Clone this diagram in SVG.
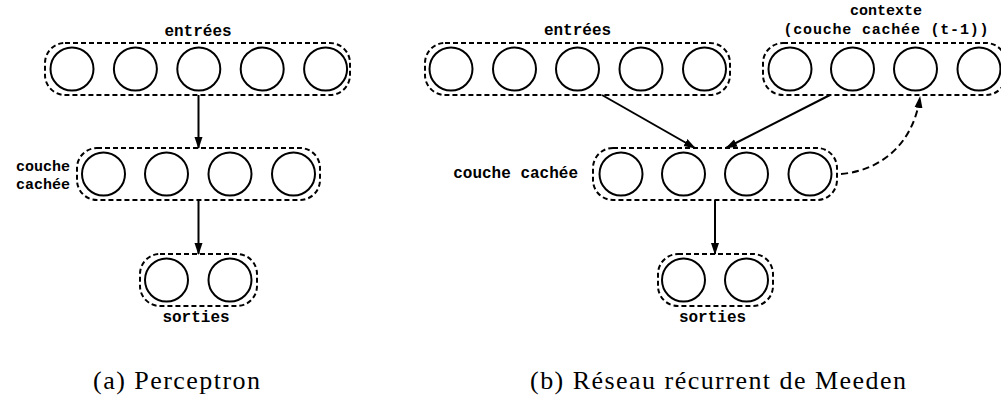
<svg xmlns="http://www.w3.org/2000/svg" width="1001" height="395" viewBox="0 0 1001 395">
<defs>
<style>
.grp{fill:none;stroke:#000;stroke-width:2;stroke-dasharray:5,3}
.n{fill:#fff;stroke:#000;stroke-width:2}
.lbl{font-family:"Liberation Mono","Courier New",monospace;font-weight:bold;font-size:16px;fill:#000}
.sm{font-size:15px}
.cap{font-family:"Liberation Serif","Times New Roman",serif;font-size:26px;fill:#000}
.ar{fill:none;stroke:#000;stroke-width:2}
.dash{fill:none;stroke:#000;stroke-width:2;stroke-dasharray:7,4}
</style>
<marker id="ah" markerWidth="12" markerHeight="10" refX="11" refY="5" orient="auto" markerUnits="userSpaceOnUse">
<path d="M0,1 L12,5 L0,9 Z" fill="#000"/>
</marker>
</defs>
<rect width="1001" height="395" fill="#fff"/>

<!-- (a) Perceptron -->
<g id="a-entrees">
<rect class="grp" x="45" y="43" width="305" height="52" rx="20" ry="20"/>
<circle class="n" cx="72" cy="69" r="21.5"/>
<circle class="n" cx="135.4" cy="69" r="21.5"/>
<circle class="n" cx="198.8" cy="69" r="21.5"/>
<circle class="n" cx="262.2" cy="69" r="21.5"/>
<circle class="n" cx="325.6" cy="69" r="21.5"/>
<text class="lbl" x="198" y="36" text-anchor="middle">entrées</text>
</g>
<g id="a-cachee">
<rect class="grp" x="77" y="148" width="243" height="52" rx="20" ry="20"/>
<circle class="n" cx="103.5" cy="174" r="21.5"/>
<circle class="n" cx="166.5" cy="174" r="21.5"/>
<circle class="n" cx="230" cy="174" r="21.5"/>
<circle class="n" cx="293.5" cy="174" r="21.5"/>
<text class="lbl sm" x="70" y="171" text-anchor="end">couche</text>
<text class="lbl sm" x="70" y="189" text-anchor="end">cachée</text>
</g>
<g id="a-sorties">
<rect class="grp" x="140" y="254" width="117" height="52" rx="20" ry="20"/>
<circle class="n" cx="166.5" cy="280" r="21.5"/>
<circle class="n" cx="230" cy="280" r="21.5"/>
<text class="lbl" x="196" y="322" text-anchor="middle">sorties</text>
</g>

<!-- (b) Meeden -->
<g id="b-entrees">
<rect class="grp" x="425" y="43" width="305" height="52" rx="20" ry="20"/>
<circle class="n" cx="451" cy="69" r="21.5"/>
<circle class="n" cx="514.5" cy="69" r="21.5"/>
<circle class="n" cx="577.5" cy="69" r="21.5"/>
<circle class="n" cx="641" cy="69" r="21.5"/>
<circle class="n" cx="704.5" cy="69" r="21.5"/>
<text class="lbl" x="577.5" y="35" text-anchor="middle">entrées</text>
</g>
<g id="b-contexte">
<rect class="grp" x="763" y="43" width="243" height="52" rx="20" ry="20"/>
<circle class="n" cx="790" cy="69" r="21.5"/>
<circle class="n" cx="852.5" cy="69" r="21.5"/>
<circle class="n" cx="915.5" cy="69" r="21.5"/>
<circle class="n" cx="979" cy="69" r="21.5"/>
<text class="lbl sm" x="886" y="15" text-anchor="middle">contexte</text>
<text class="lbl sm" x="886" y="34" text-anchor="middle" textLength="205" lengthAdjust="spacing">(couche cachée (t-1))</text>
</g>
<g id="b-cachee">
<rect class="grp" x="593" y="148" width="244" height="52" rx="20" ry="20"/>
<circle class="n" cx="621" cy="174" r="21.5"/>
<circle class="n" cx="683.5" cy="174" r="21.5"/>
<circle class="n" cx="746.5" cy="174" r="21.5"/>
<circle class="n" cx="810" cy="174" r="21.5"/>
<text class="lbl" x="578" y="178" text-anchor="end">couche cachée</text>
</g>
<g id="b-sorties">
<rect class="grp" x="658" y="254" width="115" height="52" rx="20" ry="20"/>
<circle class="n" cx="683.5" cy="280" r="21.5"/>
<circle class="n" cx="746.5" cy="280" r="21.5"/>
<text class="lbl" x="712.5" y="322" text-anchor="middle">sorties</text>
</g>

<g id="connectors">
<line class="ar" x1="198.5" y1="95" x2="198.5" y2="148" marker-end="url(#ah)"/>
<line class="ar" x1="198.5" y1="200" x2="198.5" y2="254" marker-end="url(#ah)"/>
<line class="ar" x1="602" y1="95" x2="695" y2="148" marker-end="url(#ah)"/>
<line class="ar" x1="830" y1="95" x2="726" y2="148" marker-end="url(#ah)"/>
<line class="ar" x1="715" y1="200" x2="715" y2="254" marker-end="url(#ah)"/>
<path class="dash" d="M841,174 C885,170 914,140 920,97" marker-end="url(#ah)"/>
</g>

<g id="captions">
<text class="cap" x="93" y="389" textLength="167" lengthAdjust="spacing">(a) Perceptron</text>
<text class="cap" x="530" y="389" textLength="376" lengthAdjust="spacing">(b) Réseau récurrent de Meeden</text>
</g>
</svg>
